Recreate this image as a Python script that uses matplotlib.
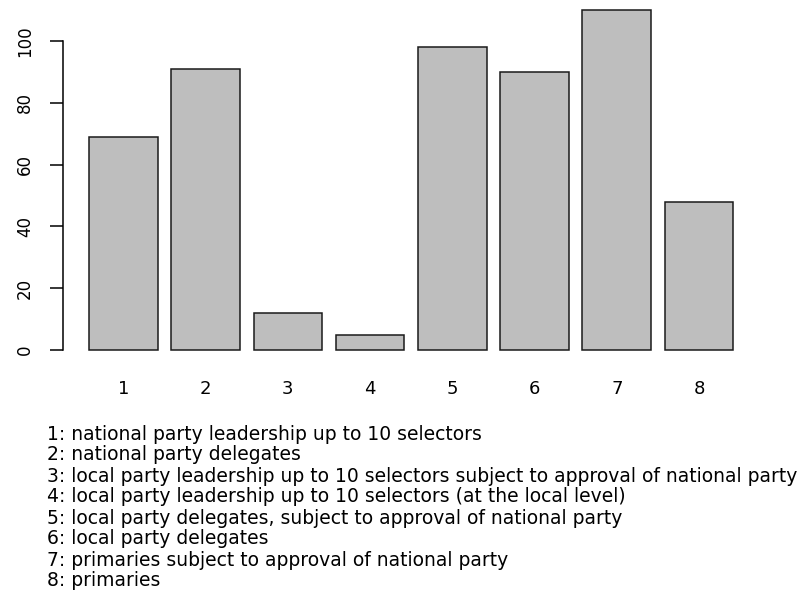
import numpy as np
import matplotlib
matplotlib.use("Agg")
import matplotlib.pyplot as plt

# ---------------------------------------------------------------------------
# Data
# ---------------------------------------------------------------------------

categories = ["1", "2", "3", "4", "5", "6", "7", "8"]
counts = [69, 91, 12, 5, 98, 90, 110, 48]
y_ticks = [0, 20, 40, 60, 80, 100]
descriptions = [
    "national party leadership up to 10 selectors",
    "national party delegates",
    "local party leadership up to 10 selectors subject to approval of national party",
    "local party leadership up to 10 selectors (at the local level)",
    "local party delegates, subject to approval of national party",
    "local party delegates",
    "primaries subject to approval of national party",
    "primaries",
]

plt.rcParams["font.family"] = ["DejaVu Sans"]

W, H = 809, 600
fig = plt.figure(figsize=(W / 100, H / 100), dpi=100)

# plot region in pixels (R style barplot, width 1, space 0.2)
left_px, right_px = 62.7, 773.3
bottom_px, top_px = 363.6, 0.0
ax = fig.add_axes([left_px / W, 1 - bottom_px / H,
                   (right_px - left_px) / W, (bottom_px - top_px) / H])

x = 0.7 + 1.2 * np.arange(len(counts))
ax.bar(x, counts, width=1.0, color="#BEBEBE", edgecolor="#1a1a1a", linewidth=1.1)

ax.set_xlim(-0.184, 10.184)
ax.set_ylim(-4.4, -4.4 + (bottom_px - top_px) / 3.09)

for s in ["top", "right", "bottom"]:
    ax.spines[s].set_visible(False)
ax.spines["left"].set_bounds(0, 100)
ax.spines["left"].set_linewidth(1.1)

ax.set_yticks(y_ticks)
ax.set_yticklabels([str(v) for v in y_ticks], rotation=90, va="center")
ax.tick_params(axis="y", length=9.6, width=1.1, pad=11, labelsize=12)

ax.set_xticks(x)
ax.set_xticklabels(categories)
ax.tick_params(axis="x", length=0, pad=11.5, labelsize=13)

# description lines underneath
for i, d in enumerate(descriptions):
    fig.text(47 / W, 1 - (434 + 21 * i) / H, f"{i + 1}: {d}",
             ha="left", va="center", fontsize=13.5)

fig.savefig("out.png", dpi=100)
